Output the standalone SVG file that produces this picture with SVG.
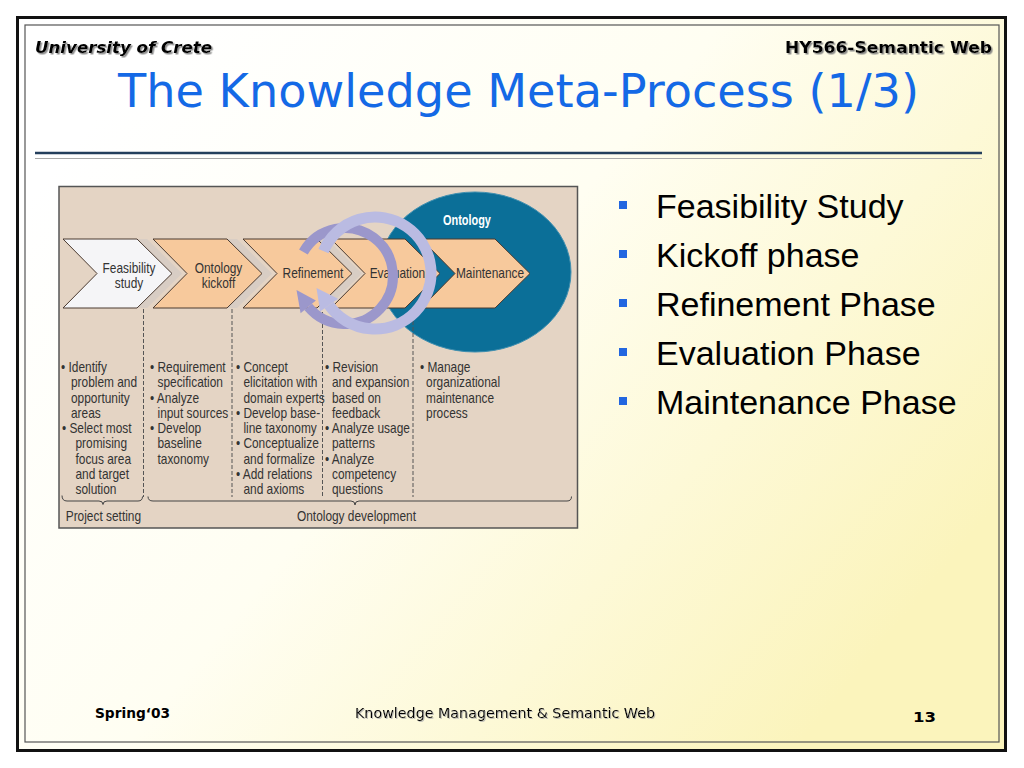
<svg xmlns="http://www.w3.org/2000/svg" width="1024" height="768" viewBox="0 0 1024 768">
<defs>
<linearGradient id="bg" x1="0.1" y1="0.1" x2="1" y2="0.65">
<stop offset="0" stop-color="#ffffff"/>
<stop offset="0.45" stop-color="#fffef2"/>
<stop offset="1" stop-color="#fbf4bc"/>
</linearGradient>
<filter id="ts" x="-5%" y="-30%" width="110%" height="160%">
<feDropShadow dx="1.5" dy="1.5" stdDeviation="0.4" flood-color="#808080" flood-opacity="0.9"/>
</filter>
<filter id="ts2" x="-5%" y="-30%" width="110%" height="160%">
<feDropShadow dx="1" dy="1" stdDeviation="0.3" flood-color="#b0b0b0" flood-opacity="0.8"/>
</filter>
</defs>
<style>
.hdr{font-family:"DejaVu Sans",Verdana,sans-serif;font-weight:bold;font-size:15px;fill:#000}
.title{font-family:"DejaVu Sans",Verdana,sans-serif;font-size:46px;fill:#1469e6}
.bul{font-family:"Liberation Sans",Arial,sans-serif;font-size:34px;fill:#000}
.sq{fill:#2266e0}
.sm{font-family:"Liberation Sans",Arial,sans-serif;font-size:14px;fill:#333}
.chev{stroke:#4a3a30;stroke-width:1}
.peach{fill:#f7c99c}
.shadow{fill:#d8cdc4}
.dash{stroke:#555;stroke-width:1;stroke-dasharray:4 2;fill:none}
.brace{stroke:#444;stroke-width:1;fill:none}
.ftr{font-family:"DejaVu Sans",Tahoma,sans-serif;font-size:13.5px;fill:#000}
</style>

<rect x="0" y="0" width="1024" height="768" fill="#ffffff"/>
<g id="frame">
<rect x="17.5" y="17.5" width="988" height="733" fill="url(#bg)" stroke="#111" stroke-width="3"/>
<rect x="25" y="25" width="974" height="717" fill="none" stroke="#555" stroke-width="1.2"/>
</g>

<g id="header">
<text class="hdr" x="35" y="53" font-style="italic" textLength="177" lengthAdjust="spacingAndGlyphs" filter="url(#ts)">University of Crete</text>
<text class="hdr" x="785" y="53" textLength="207" lengthAdjust="spacingAndGlyphs" filter="url(#ts)">HY566-Semantic Web</text>
<text class="title" x="118" y="107" textLength="801" lengthAdjust="spacingAndGlyphs">The Knowledge Meta-Process (1/3)</text>
<line x1="35" y1="153" x2="982" y2="153" stroke="#243f5c" stroke-width="2.5"/>
<line x1="35" y1="158.5" x2="982" y2="158.5" stroke="#a8a8a8" stroke-width="1"/>
</g>

<g id="diagram">
<rect id="panel" x="59" y="186.5" width="518.5" height="341.5" fill="#e4d4c4" stroke="#555" stroke-width="1.5"/>

<g id="ontology-ellipse">
<ellipse cx="475" cy="272" rx="96" ry="80" fill="#0b6f98" stroke="#3f8fb0" stroke-width="1"/>
<text x="598.7" y="225" transform="scale(0.78,1)" text-anchor="middle" font-family="Liberation Sans, Arial, sans-serif" font-weight="bold" font-size="14" fill="#ffffff">Ontology</text>
</g>

<g id="shadows">
<polygon class="shadow" points="73,239 147,239 182,273.5 147,308 73,308 107,273.5"/>
<polygon class="shadow" points="163,239 237,239 272,273.5 237,308 163,308 197,273.5"/>
<polygon class="shadow" points="253,239 327,239 362,273.5 327,308 253,308 287,273.5"/>
</g>

<g id="node-feasibility">
<polygon class="chev" fill="#f5f5f7" points="63,239 137,239 172,273.5 137,308 63,308 97,273.5"/>
<text class="sm" transform="scale(0.85,1)" text-anchor="middle"><tspan x="151.8" y="273">Feasibility</tspan><tspan x="151.8" y="288.5">study</tspan></text>
</g>
<g id="node-kickoff">
<polygon class="chev peach" points="153,239 227,239 262,273.5 227,308 153,308 187,273.5"/>
<text class="sm" transform="scale(0.85,1)" text-anchor="middle"><tspan x="257.1" y="273">Ontology</tspan><tspan x="257.1" y="288.5">kickoff</tspan></text>
</g>
<g id="node-refinement">
<polygon class="chev peach" points="243,239 317,239 352,273.5 317,308 243,308 277,273.5"/>
<text class="sm" transform="scale(0.85,1)" text-anchor="middle" x="368.2" y="278">Refinement</text>
</g>
<g id="node-evaluation">
<polygon class="chev peach" points="331,239 405,239 440,273.5 405,308 331,308 365,273.5"/>
<text class="sm" transform="scale(0.85,1)" text-anchor="middle" x="467.6" y="278">Evaluation</text>
</g>
<g id="node-maintenance">
<polygon class="chev peach" points="421,239 495,239 530,273.5 495,308 421,308 455,273.5"/>
<text class="sm" transform="scale(0.85,1)" text-anchor="middle" x="576.5" y="278">Maintenance</text>
</g>

<g id="separators">
<line class="dash" x1="143.5" y1="309" x2="143.5" y2="497"/>
<line class="dash" x1="232" y1="309" x2="232" y2="497"/>
<line class="dash" x1="322.5" y1="312" x2="322.5" y2="497"/>
<line class="dash" x1="413" y1="309" x2="413" y2="497"/>
</g>

<g id="connectors">
<path d="M303.4,252 A48,48 0 1 1 308.2,306.9" fill="none" stroke="#9b97cb" stroke-width="10"/>
<polygon points="315.9,300.4 300.6,313.3 296.5,290" fill="#9b97cb"/>
<path d="M323.5,251.1 A56,56 0 1 1 329.1,305.1" fill="none" stroke="#babbe2" stroke-width="11"/>
<polygon points="338.1,298.8 320.1,311.4 316.5,288" fill="#babbe2"/>
</g>

<g id="col-feasibility">
<text class="sm" transform="scale(0.85,1)">
<tspan x="71.8" y="372">• Identify</tspan>
<tspan x="83.5" y="387.3">problem and</tspan>
<tspan x="83.5" y="402.6">opportunity</tspan>
<tspan x="83.5" y="417.9">areas</tspan>
<tspan x="72.9" y="433.2">• Select most</tspan>
<tspan x="88.8" y="448.5">promising</tspan>
<tspan x="88.8" y="463.8">focus area</tspan>
<tspan x="88.8" y="479.1">and target</tspan>
<tspan x="88.8" y="494.4">solution</tspan>
</text>
</g>
<g id="col-kickoff">
<text class="sm" transform="scale(0.85,1)">
<tspan x="176.5" y="372">• Requirement</tspan>
<tspan x="185.3" y="387.3">specification</tspan>
<tspan x="176.5" y="402.6">• Analyze</tspan>
<tspan x="185.3" y="417.9">input sources</tspan>
<tspan x="176.5" y="433.2">• Develop</tspan>
<tspan x="185.3" y="448.5">baseline</tspan>
<tspan x="185.3" y="463.8">taxonomy</tspan>
</text>
</g>
<g id="col-refinement">
<text class="sm" transform="scale(0.85,1)">
<tspan x="277.6" y="372">• Concept</tspan>
<tspan x="286.4" y="387.3">elicitation with</tspan>
<tspan x="286.4" y="402.6">domain experts</tspan>
<tspan x="277.6" y="417.9">• Develop base-</tspan>
<tspan x="286.4" y="433.2">line taxonomy</tspan>
<tspan x="277.6" y="448.5">• Conceptualize</tspan>
<tspan x="286.4" y="463.8">and formalize</tspan>
<tspan x="277.6" y="479.1">• Add relations</tspan>
<tspan x="286.4" y="494.4">and axioms</tspan>
</text>
</g>
<g id="col-evaluation">
<text class="sm" transform="scale(0.85,1)">
<tspan x="382.4" y="372">• Revision</tspan>
<tspan x="390.6" y="387.3">and expansion</tspan>
<tspan x="390.6" y="402.6">based on</tspan>
<tspan x="390.6" y="417.9">feedback</tspan>
<tspan x="382.4" y="433.2">• Analyze usage</tspan>
<tspan x="390.6" y="448.5">patterns</tspan>
<tspan x="382.4" y="463.8">• Analyze</tspan>
<tspan x="390.6" y="479.1">competency</tspan>
<tspan x="390.6" y="494.4">questions</tspan>
</text>
</g>
<g id="col-maintenance">
<text class="sm" transform="scale(0.85,1)">
<tspan x="494.1" y="372">• Manage</tspan>
<tspan x="501.2" y="387.3">organizational</tspan>
<tspan x="501.2" y="402.6">maintenance</tspan>
<tspan x="501.2" y="417.9">process</tspan>
</text>
</g>

<g id="brace-project">
<path class="brace" d="M62,495.5 Q62,501 67,501 L99,501 Q103,501 103,504.5 Q103,501 107,501 L138,501 Q142.5,501 142.5,496.5"/>
<text class="sm" transform="scale(0.85,1)" x="77.3" y="521.5">Project setting</text>
</g>
<g id="brace-development">
<path class="brace" d="M148,496.5 Q148,501 153,501 L351,501 Q355,501 355,505 Q355,501 359,501 L567,501 Q571.5,501 571.5,496.5"/>
<text class="sm" transform="scale(0.85,1)" x="419.4" y="521.5" text-anchor="middle">Ontology development</text>
</g>
</g>

<g id="bullets">
<rect class="sq" x="619" y="201" width="8" height="8"/>
<text class="bul" x="656" y="218">Feasibility Study</text>
<rect class="sq" x="619" y="250" width="8" height="8"/>
<text class="bul" x="656" y="267">Kickoff phase</text>
<rect class="sq" x="619" y="299" width="8" height="8"/>
<text class="bul" x="656" y="316">Refinement Phase</text>
<rect class="sq" x="619" y="348" width="8" height="8"/>
<text class="bul" x="656" y="365">Evaluation Phase</text>
<rect class="sq" x="619" y="397" width="8" height="8"/>
<text class="bul" x="656" y="414">Maintenance Phase</text>
</g>

<g id="footer">
<text class="ftr" x="95" y="718" font-weight="bold" textLength="75" lengthAdjust="spacingAndGlyphs">Spring‘03</text>
<text class="ftr" x="355" y="718" textLength="300" lengthAdjust="spacingAndGlyphs" filter="url(#ts2)">Knowledge Management &amp; Semantic Web</text>
<text class="ftr" x="913" y="722" font-weight="bold" font-size="17" textLength="23" lengthAdjust="spacingAndGlyphs">13</text>
</g>
</svg>
